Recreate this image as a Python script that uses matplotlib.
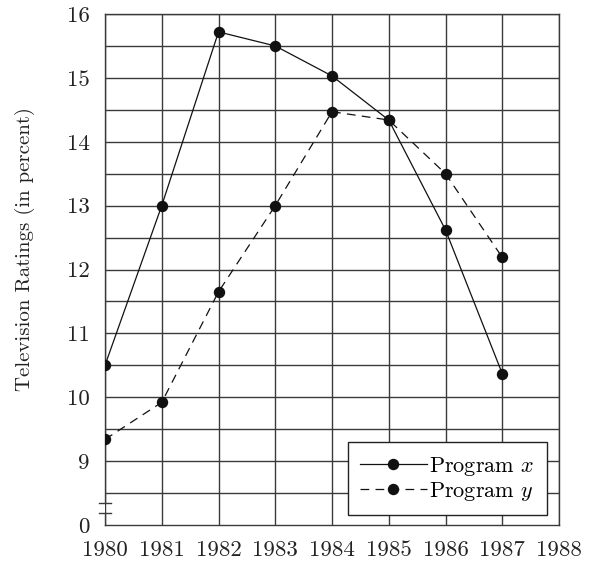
import matplotlib
matplotlib.use("Agg")
import matplotlib.pyplot as plt

plt.rcParams['font.family'] = ['cmr10', 'DejaVu Serif']
plt.rcParams['mathtext.fontset'] = 'cm'
plt.rcParams['axes.formatter.use_mathtext'] = True

years = [1980, 1981, 1982, 1983, 1984, 1985, 1986, 1987]
program_x = [10.5, 13.0, 15.72, 15.5, 15.03, 14.34, 12.62, 10.37]
program_y = [9.34, 9.92, 11.65, 13.0, 14.47, 14.34, 13.5, 12.19]
x_ticks = [1980, 1981, 1982, 1983, 1984, 1985, 1986, 1987, 1988]
y_tick_pos = [8, 9, 10, 11, 12, 13, 14, 15, 16]
y_tick_labels = ["0", "9", "10", "11", "12", "13", "14", "15", "16"]

fig = plt.figure(figsize=(5.91, 5.64), dpi=100)
ax = fig.add_axes([105/591, 1-525/564, (559-105)/591, (525-14)/564])
ax.set_xlim(1980, 1988)
ax.set_ylim(8, 16)

gc = '#3a3a3a'
for xv in x_ticks:
    ax.axvline(xv, color=gc, lw=1.0, zorder=1)
yv = 8.5
while yv <= 16.001:
    ax.axhline(yv, color=gc, lw=1.0, zorder=1)
    yv += 0.5

for s in ['top', 'right', 'bottom']:
    ax.spines[s].set_color(gc)
    ax.spines[s].set_linewidth(1.0)
ax.spines['left'].set_visible(False)
# left axis with break
ax.plot([1980, 1980], [8.0, 8.19], color=gc, lw=1.0, clip_on=False, zorder=2)
ax.plot([1980, 1980], [8.34, 16.0], color=gc, lw=1.0, clip_on=False, zorder=2)
ax.plot([1979.9, 1980.1], [8.19, 8.19], color=gc, lw=1.0, clip_on=False, zorder=2)
ax.plot([1979.9, 1980.1], [8.34, 8.34], color=gc, lw=1.0, clip_on=False, zorder=2)

ax.plot(years, program_x, color='#111111', lw=0.9, marker='o', ms=7.2,
        mfc='#111111', mec='#111111', zorder=3, label=r'Program $x$')
ax.plot(years, program_y, color='#111111', lw=0.9, marker='o', ms=7.2,
        mfc='#111111', mec='#111111', dashes=(7, 5), zorder=3, label=r'Program $y$')

ax.set_xticks(x_ticks)
ax.set_xticklabels([str(v) for v in x_ticks])
ax.set_yticks(y_tick_pos)
ax.set_yticklabels(y_tick_labels)
ax.tick_params(axis='both', length=0, labelsize=16.5, colors='#222222')
ax.tick_params(axis='x', pad=11)
ax.tick_params(axis='y', pad=11)

ax.set_ylabel('Television Ratings (in percent)', fontsize=15, color='#222222')
ax.yaxis.set_label_coords(-(105-35)/454, (525-249)/511)

leg = ax.legend(loc='lower right', bbox_to_anchor=(547/591, 1-515/564), bbox_transform=fig.transFigure,
                fontsize=16, frameon=True, fancybox=False, edgecolor='#222222',
                framealpha=1.0, handlelength=3.0, handletextpad=0.12, borderpad=0.55,
                labelspacing=0.1, borderaxespad=0)
leg.get_frame().set_linewidth(1.0)
leg.set_zorder(5)

fig.savefig('out.png', dpi=100)
